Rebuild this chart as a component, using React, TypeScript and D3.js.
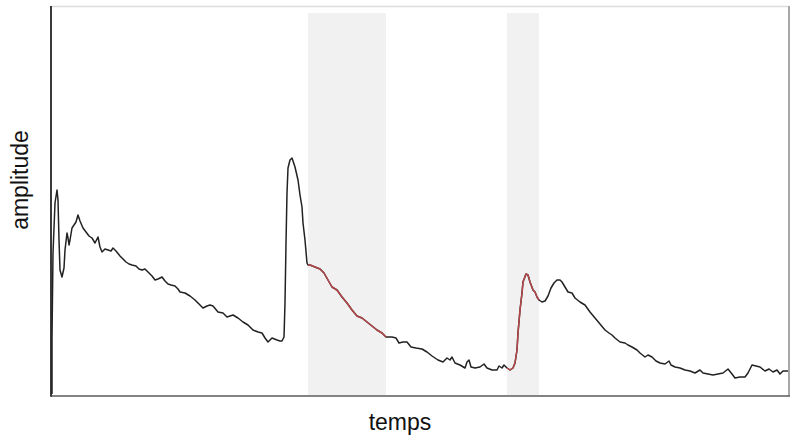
import React from "react";
import * as d3 from "d3";

// [time, amplitude] samples (arbitrary units)
const samples: [number, number][] = [
  [1, 2], [1, 58], [2, 143], [4, 193], [6, 206], [7, 196], [8, 156], [9, 126], [11, 119], [13, 128],
  [14, 146], [16, 163], [17, 158], [18, 151], [19, 156], [21, 168], [23, 171], [25, 174], [27, 181], [29, 175],
  [32, 168], [35, 164], [38, 160], [41, 158], [44, 153], [47, 159], [49, 149], [51, 144], [54, 147], [57, 146],
  [60, 145], [62, 148], [65, 145], [69, 140], [72, 137], [75, 134], [78, 132], [81, 131], [85, 130], [88, 127],
  [91, 126], [94, 127], [97, 124], [101, 120], [104, 116], [107, 117], [111, 119], [114, 115], [117, 112], [120, 111],
  [124, 110], [127, 107], [129, 104], [134, 103], [139, 100], [144, 96], [149, 91], [152, 88], [156, 90], [159, 91],
  [162, 90], [167, 84], [172, 83], [176, 79], [179, 80], [182, 81], [187, 78], [192, 74], [197, 71], [202, 66],
  [207, 64], [211, 63], [214, 58], [217, 54], [221, 58], [226, 56], [229, 55], [231, 55], [233, 59], [234, 93],
  [235, 153], [236, 203], [237, 228], [239, 236], [241, 238], [244, 229], [247, 216], [249, 201], [251, 189], [252, 173],
  [254, 156], [256, 133], [257, 131], [259, 131], [264, 129], [269, 127], [273, 123], [277, 116], [281, 109], [286, 106],
  [291, 99], [296, 93], [301, 86], [306, 80], [311, 78], [316, 74], [321, 70], [326, 66], [331, 63], [335, 59],
  [337, 59], [341, 59], [345, 58], [348, 53], [352, 54], [356, 54], [360, 49], [365, 48], [371, 47], [376, 44],
  [381, 40], [387, 36], [392, 34], [396, 38], [399, 36], [401, 39], [404, 33], [409, 31], [414, 28], [416, 34],
  [418, 36], [420, 29], [424, 28], [429, 29], [433, 32], [436, 28], [441, 26], [446, 26], [448, 30], [451, 28],
  [453, 31], [456, 28], [459, 26], [462, 28], [464, 33], [466, 46], [467, 63], [469, 86], [471, 103], [472, 114],
  [475, 122], [477, 121], [479, 114], [482, 106], [484, 104], [486, 99], [488, 96], [491, 94], [494, 95], [497, 100],
  [500, 108], [503, 113], [506, 116], [509, 116], [511, 114], [514, 109], [517, 104], [521, 103], [524, 98], [529, 94],
  [534, 91], [539, 84], [544, 78], [549, 72], [554, 66], [558, 63], [561, 61], [564, 58], [569, 54], [574, 53],
  [577, 51], [581, 49], [586, 46], [589, 43], [594, 39], [597, 41], [601, 39], [605, 35], [609, 33], [614, 32],
  [618, 35], [620, 31], [624, 29], [629, 28], [634, 26], [639, 25], [644, 23], [649, 26], [652, 23], [657, 22],
  [662, 21], [667, 22], [672, 23], [677, 27], [681, 22], [684, 18], [689, 19], [694, 19], [697, 23], [701, 31],
  [705, 30], [709, 29], [714, 25], [718, 27], [722, 24], [726, 26], [729, 22], [732, 25], [737, 25],
];

// highlighted time windows (shaded, trace drawn in red)
const bands: [number, number][] = [
  [257, 335],
  [456, 488],
];

const xLabel = "temps";
const yLabel = "amplitude";

const W = 799;
const H = 436;
const left = 51;
const right = 789;
const top = 6;
const bottom = 396;

export default function App() {
  const x = d3.scaleLinear().domain([0, 738]).range([left, right]);
  const y = d3.scaleLinear().domain([0, 390]).range([bottom, top]);
  const line = d3
    .line<[number, number]>()
    .x((d) => x(d[0]))
    .y((d) => y(d[1]));

  const font = "'Liberation Sans', Arial, Helvetica, sans-serif";

  return (
    <svg
      width={W}
      height={H}
      style={{ position: "absolute", left: 0, top: 0, background: "#fff" }}
    >
      {bands.map((b, i) => (
        <rect
          key={i}
          x={x(b[0])}
          y={top + 7}
          width={x(b[1]) - x(b[0])}
          height={bottom - top - 8}
          fill="#f1f1f1"
        />
      ))}
      {/* frame */}
      <line x1={left} x2={right} y1={top + 0.5} y2={top + 0.5} stroke="#dcdcdc" strokeWidth={1.5} />
      <line x1={right} x2={right} y1={top} y2={bottom} stroke="#a8a8a8" strokeWidth={2} />
      <line x1={left} x2={right + 1} y1={bottom} y2={bottom} stroke="#5a5a5a" strokeWidth={1.5} />
      <line x1={left} x2={left} y1={top} y2={bottom + 0.75} stroke="#3a3a3a" strokeWidth={2} />

      <path
        d={line(samples) || ""}
        fill="none"
        stroke="#222"
        strokeWidth={1.5}
        strokeLinejoin="round"
      />
      {bands.map((b, i) => (
        <path
          key={i}
          d={line(samples.filter((s) => s[0] >= b[0] && s[0] <= b[1])) || ""}
          fill="none"
          stroke="#b5474a"
          strokeWidth={1.5}
          strokeLinejoin="round"
        />
      ))}

      <text
        x={400}
        y={430}
        textAnchor="middle"
        fontFamily={font}
        fontSize={23}
        fill="#111"
      >
        {xLabel}
      </text>
      <text
        transform={`translate(28, 180) rotate(-90)`}
        textAnchor="middle"
        fontFamily={font}
        fontSize={23}
        fill="#111"
      >
        {yLabel}
      </text>
    </svg>
  );
}
